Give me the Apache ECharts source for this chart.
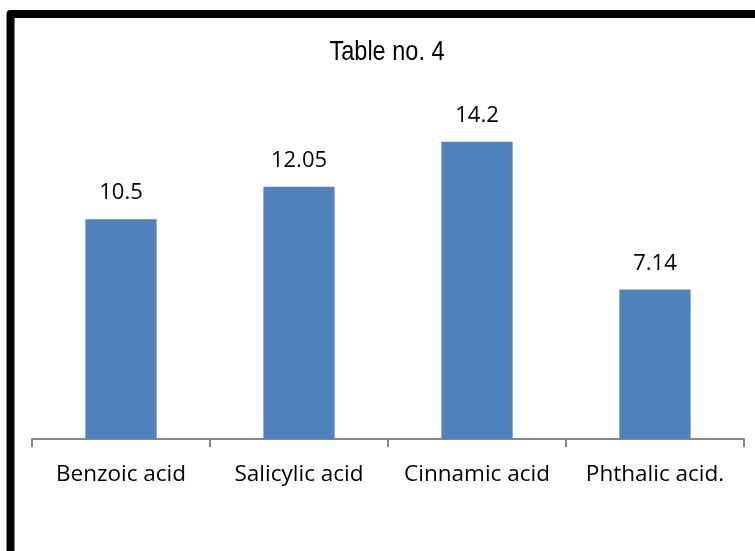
<!DOCTYPE html>
<html><head><meta charset="utf-8">
<script src="https://cdn.jsdelivr.net/npm/echarts@6/dist/echarts.min.js"></script>
<style>html,body{margin:0;padding:0;background:#fff}#c{width:755px;height:551px}</style>
</head><body><div id="c"></div>
<script>
const categories = ['Benzoic acid', 'Salicylic acid', 'Cinnamic acid', 'Phthalic acid.'];
const values = [10.5, 12.05, 14.2, 7.14];
const labels = ['10.5', '12.05', '14.2', '7.14'];
const titleText = 'Table no. 4';

const chart = echarts.init(document.getElementById('c'), null, {renderer: 'canvas'});
chart.setOption({
  backgroundColor: '#fff',
  animation: false,
  grid: {left: 32, right: 11, top: 104, bottom: 112, containLabel: false},
  xAxis: {
    type: 'category', data: categories,
    axisLine: {lineStyle: {color: '#868686', width: 2}},
    axisTick: {show: true, interval: 0, length: 8, lineStyle: {color: '#868686', width: 2}},
    axisLabel: {interval: 0, color: '#000', fontFamily: "'Open Sans'", fontSize: 22.5, margin: 24}
  },
  yAxis: {type: 'value', min: 0, max: 16, show: false, splitLine: {show: false}},
  series: [{
    type: 'bar', data: values, barCategoryGap: '60%',
    itemStyle: {color: '#4F81BD'},
    label: {show: true, position: 'top', distance: 15, color: '#000', fontFamily: "'Open Sans'", fontSize: 22,
      formatter: p => labels[p.dataIndex]}
  }],
  graphic: [{
    type: 'polyline', silent: true,
    shape: {points: [[10.5, 570], [10.5, 14], [770, 14]]},
    style: {stroke: '#000', lineWidth: 8, fill: null, lineJoin: 'round'}
  }, {
    type: 'text', silent: true,
    x: 387, y: 52, scaleX: 0.84, scaleY: 1,
    style: {text: titleText, fill: '#000', font: "28px 'Liberation Sans', Arial", textAlign: 'center', textVerticalAlign: 'middle'}
  }]
});
</script></body></html>
